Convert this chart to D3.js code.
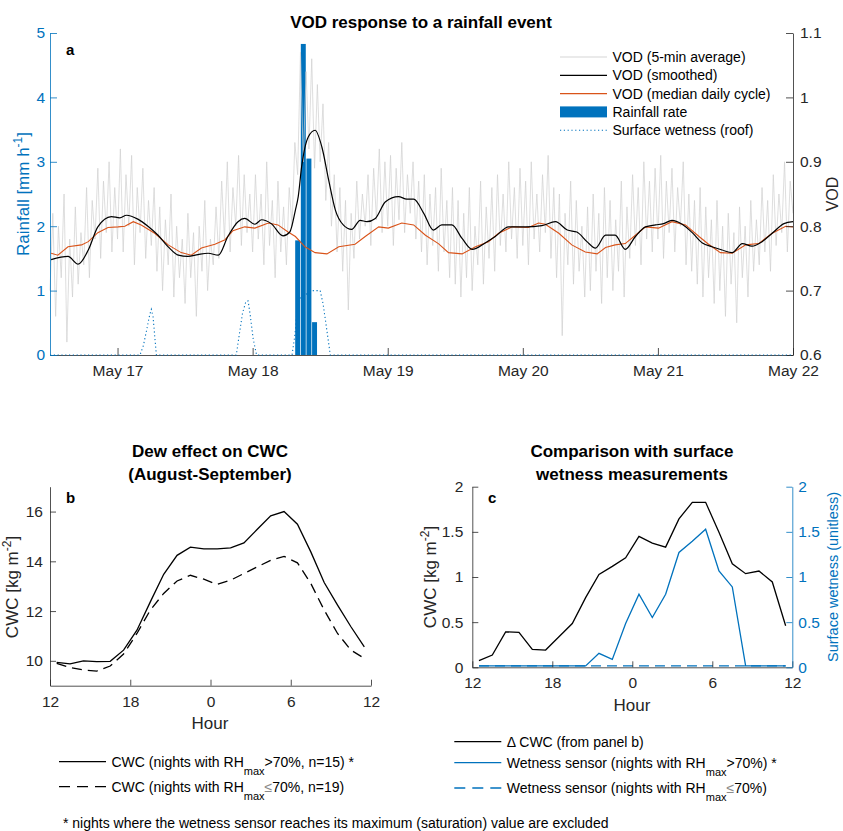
<!DOCTYPE html>
<html>
<head>
<meta charset="utf-8">
<script src="https://cdn.jsdelivr.net/npm/d3@7"></script>
<style>
  body { margin: 0; background: #fff; }
  svg { font-family: "Liberation Sans", Arial, Helvetica, sans-serif; }
</style>
</head>
<body>
<div class="chart"></div>
<script>
// ---------------- data ----------------
// panel a: time in hours counted from May 16 00:00
var vodRawStart = 12, vodRawStep = 0.5;
var vodRaw = [
  0.70,0.82,0.66,0.80,0.72,0.85,0.62,0.78,0.69,0.83,0.71,0.79,
  0.74,0.86,0.72,0.84,0.78,0.89,0.75,0.87,0.79,0.90,0.76,0.86,
  0.78,0.92,0.76,0.88,0.80,0.91,0.74,0.86,0.79,0.89,0.75,0.84,
  0.77,0.86,0.73,0.83,0.70,0.81,0.74,0.85,0.69,0.80,0.72,0.78,
  0.68,0.82,0.72,0.79,0.66,0.80,0.73,0.84,0.70,0.78,0.74,0.83,
  0.75,0.87,0.78,0.90,0.76,0.86,0.80,0.91,0.77,0.88,0.79,0.85,
  0.76,0.88,0.78,0.85,0.74,0.90,0.77,0.84,0.72,0.87,0.76,0.83,
  0.74,0.86,0.80,0.93,0.88,1.07,0.90,1.04,0.92,1.06,0.89,1.02,
  0.90,0.99,0.84,0.93,0.80,0.88,0.76,0.86,0.73,0.84,0.67,0.82,
  0.75,0.87,0.78,0.85,0.80,0.88,0.77,0.89,0.81,0.92,0.79,0.90,
  0.80,0.91,0.77,0.89,0.81,0.93,0.79,0.88,0.82,0.90,0.78,0.87,
  0.76,0.88,0.74,0.85,0.77,0.86,0.73,0.89,0.76,0.84,0.72,0.86,
  0.71,0.84,0.69,0.82,0.72,0.86,0.70,0.80,0.74,0.87,0.71,0.83,
  0.75,0.86,0.73,0.88,0.77,0.85,0.76,0.90,0.78,0.86,0.75,0.89,
  0.77,0.87,0.74,0.90,0.78,0.85,0.76,0.88,0.79,0.91,0.75,0.86,
  0.72,0.85,0.63,0.82,0.74,0.87,0.71,0.84,0.73,0.80,0.69,0.83,
  0.70,0.85,0.73,0.82,0.68,0.86,0.72,0.84,0.70,0.81,0.73,0.87,
  0.69,0.83,0.75,0.88,0.77,0.86,0.74,0.90,0.78,0.87,0.76,0.89,
  0.78,0.91,0.75,0.87,0.79,0.89,0.76,0.86,0.80,0.90,0.74,0.85,
  0.73,0.84,0.71,0.86,0.69,0.83,0.72,0.81,0.68,0.84,0.70,0.80,
  0.66,0.82,0.71,0.79,0.65,0.83,0.72,0.80,0.69,0.84,0.73,0.81,
  0.74,0.86,0.76,0.84,0.73,0.88,0.77,0.85,0.79,0.90,0.76,0.87,
  0.82
];

var smoothHours = [12.2,15.2,17.0,18.8,20.5,22.9,24.4,25.6,27.6,29.4,31.2,33.0,34.8,36.5,38.3,40.1,41.9,43.6,45.4,46.6,48.4,49.6,51.3,53.4,54.6,55.6,56.1,56.7,57.9,59.1,60.3,61.5,62.7,64.1,65.6,67.1,68.3,69.8,71.6,73.9,75.4,76.6,78.4,80.1,81.6,83.4,85.2,87.0,89.3,91.1,93.5,96.4,99.4,101.8,103.9,105.6,107.4,108.9,110.7,112.4,114.2,116.0,117.8,119.6,121.0,122.5,124.3,126.1,127.9,129.6,131.4,133.2,135.0,136.7,138.5,140.3,142.4,144.0];
var smoothVod = [0.748,0.753,0.741,0.763,0.799,0.815,0.813,0.817,0.811,0.800,0.786,0.768,0.755,0.753,0.756,0.758,0.755,0.784,0.807,0.812,0.803,0.810,0.804,0.785,0.791,0.825,0.846,0.892,0.939,0.949,0.923,0.872,0.825,0.802,0.795,0.809,0.807,0.812,0.838,0.846,0.842,0.842,0.820,0.794,0.802,0.802,0.781,0.764,0.774,0.784,0.799,0.799,0.801,0.807,0.794,0.791,0.776,0.766,0.786,0.786,0.764,0.784,0.799,0.802,0.804,0.809,0.803,0.790,0.774,0.768,0.763,0.759,0.773,0.769,0.776,0.789,0.804,0.807];

var medianHours = [12.2,13.4,15.2,17.6,18.8,20.5,22.3,24.1,25.3,26.8,28.2,30.6,33.0,35.3,37.1,38.9,41.3,43.1,44.5,46.6,48.4,50.8,52.5,54.3,55.6,57.3,59.1,61.2,63.3,66.2,68.0,70.4,72.1,74.5,76.6,78.7,81.0,82.8,85.2,87.6,89.9,91.7,94.1,97.0,98.8,100.0,102.4,104.7,107.1,109.2,110.7,112.4,114.2,116.0,117.8,120.1,122.5,124.9,127.3,129.0,131.1,133.2,135.6,137.9,140.3,142.7,144.0];
var medianVod = [0.758,0.755,0.768,0.771,0.776,0.790,0.798,0.799,0.800,0.807,0.802,0.789,0.771,0.759,0.755,0.766,0.772,0.779,0.793,0.799,0.797,0.805,0.802,0.791,0.784,0.768,0.759,0.757,0.768,0.772,0.784,0.799,0.797,0.805,0.802,0.786,0.773,0.759,0.757,0.768,0.776,0.789,0.799,0.798,0.805,0.803,0.789,0.771,0.760,0.757,0.767,0.771,0.773,0.786,0.799,0.797,0.807,0.802,0.784,0.772,0.759,0.758,0.771,0.773,0.789,0.800,0.799];

var rainHours = [56, 57, 58, 59];
var rainRate = [1.78, 4.83, 3.05, 0.51];

var wetHours = [12, 28.0,28.6,29.2,29.7,30.0,30.3,30.6,30.9, 45.1,45.6,46.2,46.8,47.2,47.6,48.1,48.7, 55.0,55.5,55.9,56.5,58.8,60.0,60.5,61.0,61.4,61.8, 144];
var wetRoof = [0, 0,0.15,0.40,0.62,0.71,0.60,0.30,0, 0,0.30,0.65,0.83,0.84,0.60,0.25,0, 0,0.30,0.70,0.90,1.00,1.00,0.80,0.50,0.25,0, 0];

var dayTickHours = [24, 48, 72, 96, 120, 144];
var dayTickLabels = ["May 17", "May 18", "May 19", "May 20", "May 21", "May 22"];
var rainTicks = [0, 1, 2, 3, 4, 5];
var vodTicks = [0.6, 0.7, 0.8, 0.9, 1, 1.1];

// panels b and c: hour of day (12 -> 36 means noon to next noon)
var hourOfDay = [12.5,13.5,14.5,15.5,16.5,17.5,18.5,19.5,20.5,21.5,22.5,23.5,24.5,25.5,26.5,27.5,28.5,29.5,30.5,31.5,32.5,33.5,34.5,35.5];
var cwcHumid = [9.94,9.88,10.0,9.97,9.98,10.43,11.23,12.37,13.48,14.24,14.57,14.50,14.50,14.54,14.74,15.29,15.83,16.0,15.49,14.38,13.15,12.24,11.37,10.56];
var cwcDry = [9.90,9.73,9.63,9.59,9.79,10.27,11.10,12.04,12.71,13.21,13.44,13.28,13.07,13.24,13.51,13.78,14.04,14.20,13.94,13.11,12.04,11.10,10.43,10.10];
var deltaCwc = [0.074,0.136,0.393,0.386,0.199,0.191,0.338,0.485,0.772,1.029,1.118,1.213,1.449,1.375,1.331,1.643,1.827,1.827,1.496,1.147,1.037,1.066,0.945,0.46];
var wetHumid = [0.015,0.015,0.015,0.015,0.015,0.015,0.015,0.015,0.015,0.154,0.088,0.485,0.809,0.551,0.809,1.272,1.397,1.529,1.066,0.89,0.015,0.015,0.015,0.015];
var wetDry = [0.015,0.015,0.015,0.015,0.015,0.015,0.015,0.015,0.015,0.015,0.015,0.015,0.015,0.015,0.015,0.015,0.015,0.015,0.015,0.015,0.015,0.015,0.015,0.015];

var hourTicks = [12, 18, 24, 30, 36];
var hourTickLabels = ["12", "18", "0", "6", "12"];
var cwcTicks = [10, 12, 14, 16];
var deltaTicks = [0, 0.5, 1, 1.5, 2];
var deltaTickLabels = ["0", "0.5", "1", "1.5", "2"];

var legendA = ["VOD (5-min average)", "VOD (smoothed)", "VOD (median daily cycle)", "Rainfall rate", "Surface wetness (roof)"];

// ---------------- style ----------------
var blue = "#0072BD", orange = "#D95319", axisGrey = "#262626", rawGrey = "#d0d0d0";
var tickFont = "15.5px", labelFont = "17px", legendFont = "14px";

var svg = d3.select(".chart").append("svg")
  .attr("width", 843)
  .attr("height", 831);

function styleAxis(g, color, size) {
  g.attr("color", color)
    .attr("font-size", size || tickFont)
    .attr("font-family", null);
  g.selectAll(".tick line").attr("stroke-width", 0.8);
  g.select(".domain").attr("stroke-width", 0.8);
}

// ================= panel a =================
var xA = d3.scaleLinear().domain([12, 144]).range([50, 793]);
var yRain = d3.scaleLinear().domain([0, 5]).range([355, 33]);
var yVod = d3.scaleLinear().domain([0.6, 1.1]).range([355, 33]);

var gA = svg.append("g");

// rainfall bars
var barW = xA(0.88) - xA(0);
gA.selectAll("rect.rain")
  .data(rainHours)
  .enter()
  .append("rect")
  .attr("class", "rain")
  .attr("x", d => xA(d) - barW / 2)
  .attr("width", barW)
  .attr("y", (d, i) => yRain(rainRate[i]))
  .attr("height", (d, i) => yRain(0) - yRain(rainRate[i]))
  .attr("fill", blue);

// 5-min VOD
var rawLine = d3.line()
  .x((d, i) => xA(vodRawStart + i * vodRawStep))
  .y(d => yVod(d));
gA.append("path")
  .datum(vodRaw)
  .attr("d", rawLine)
  .attr("fill", "none")
  .attr("stroke", rawGrey)
  .attr("stroke-width", 0.7);

// median daily cycle
gA.append("path")
  .datum(medianHours)
  .attr("d", d3.line().x(d => xA(d)).y((d, i) => yVod(medianVod[i])))
  .attr("fill", "none")
  .attr("stroke", orange)
  .attr("stroke-width", 1.1);

// smoothed VOD
gA.append("path")
  .datum(smoothHours)
  .attr("d", d3.line().curve(d3.curveMonotoneX).x(d => xA(d)).y((d, i) => yVod(smoothVod[i])))
  .attr("fill", "none")
  .attr("stroke", "#000")
  .attr("stroke-width", 1.2);

// axes
var xAxisA = d3.axisBottom(xA)
  .tickValues(dayTickHours)
  .tickFormat((d, i) => dayTickLabels[i])
  .tickSizeInner(-7).tickSizeOuter(0).tickPadding(10);
gA.append("g")
  .attr("transform", "translate(0,355)")
  .call(xAxisA)
  .call(g => styleAxis(g, axisGrey));

var leftA = d3.axisLeft(yRain)
  .tickValues(rainTicks)
  .tickFormat(d3.format("d"))
  .tickSizeInner(-7).tickSizeOuter(0).tickPadding(5);
gA.append("g")
  .attr("transform", "translate(50,0)")
  .call(leftA)
  .call(g => styleAxis(g, blue));

var rightA = d3.axisRight(yVod)
  .tickValues(vodTicks)
  .tickFormat(d3.format("~g"))
  .tickSizeInner(-7).tickSizeOuter(0).tickPadding(7);
gA.append("g")
  .attr("transform", "translate(793,0)")
  .call(rightA)
  .call(g => styleAxis(g, axisGrey));

// surface wetness (dotted) drawn over the axis
gA.append("path")
  .datum(wetHours)
  .attr("d", d3.line().x(d => xA(d)).y((d, i) => yRain(wetRoof[i])))
  .attr("fill", "none")
  .attr("stroke", blue)
  .attr("stroke-width", 1.1)
  .attr("stroke-dasharray", "1.2,2.6");

// labels
svg.append("text")
  .attr("x", 421).attr("y", 28)
  .attr("text-anchor", "middle")
  .attr("font-weight", "bold")
  .attr("font-size", labelFont)
  .text("VOD response to a rainfall event");

svg.append("text")
  .attr("x", 66).attr("y", 55)
  .attr("font-weight", "bold")
  .attr("font-size", "15px")
  .text("a");

var rainLabel = svg.append("text")
  .attr("transform", "translate(29,194) rotate(-90)")
  .attr("text-anchor", "middle")
  .attr("font-size", labelFont)
  .attr("fill", blue);
rainLabel.append("tspan").text("Rainfall [mm h");
rainLabel.append("tspan").attr("dy", -7).attr("font-size", "12px").text("-1");
rainLabel.append("tspan").attr("dy", 7).text("]");

svg.append("text")
  .attr("transform", "translate(838,194) rotate(-90)")
  .attr("text-anchor", "middle")
  .attr("font-size", "16px")
  .attr("fill", axisGrey)
  .text("VOD");

// legend a
var legA = svg.append("g").attr("font-size", legendFont).attr("fill", "#000");
legendA.forEach(function(label, i) {
  var y = 57 + i * 18.3;
  if (i === 3) {
    legA.append("rect").attr("x", 560).attr("y", y - 5.5).attr("width", 47).attr("height", 11).attr("fill", blue);
  } else {
    var l = legA.append("line")
      .attr("x1", 560).attr("x2", 607).attr("y1", y).attr("y2", y);
    if (i === 0) l.attr("stroke", rawGrey).attr("stroke-width", 0.9);
    if (i === 1) l.attr("stroke", "#000").attr("stroke-width", 1.2);
    if (i === 2) l.attr("stroke", orange).attr("stroke-width", 1.1);
    if (i === 4) l.attr("stroke", blue).attr("stroke-width", 1.1).attr("stroke-dasharray", "1.2,2.6");
  }
  legA.append("text").attr("x", 612.5).attr("y", y + 5).text(label);
});

// ================= panel b =================
var xB = d3.scaleLinear().domain([12, 36]).range([50, 371]);
var yB = d3.scaleLinear().domain([9, 17]).range([685.7, 486.7]);
var gB = svg.append("g");

gB.append("path")
  .datum(hourOfDay)
  .attr("d", d3.line().x(d => xB(d)).y((d, i) => yB(cwcHumid[i])))
  .attr("fill", "none").attr("stroke", "#000").attr("stroke-width", 1.3);
gB.append("path")
  .datum(hourOfDay)
  .attr("d", d3.line().x(d => xB(d)).y((d, i) => yB(cwcDry[i])))
  .attr("fill", "none").attr("stroke", "#000").attr("stroke-width", 1.3)
  .attr("stroke-dasharray", "10,6");

gB.append("g")
  .attr("transform", "translate(0,685.7)")
  .call(d3.axisBottom(xB).tickValues(hourTicks).tickFormat((d, i) => hourTickLabels[i])
    .tickSizeInner(-6).tickSizeOuter(0).tickPadding(10))
  .call(g => styleAxis(g, axisGrey));
gB.append("g")
  .attr("transform", "translate(50,0)")
  .call(d3.axisLeft(yB).tickValues(cwcTicks).tickSizeInner(-6).tickSizeOuter(0).tickPadding(7))
  .call(g => styleAxis(g, axisGrey));

svg.append("text").attr("x", 210).attr("y", 457).attr("text-anchor", "middle")
  .attr("font-weight", "bold").attr("font-size", labelFont).text("Dew effect on CWC");
svg.append("text").attr("x", 210).attr("y", 480).attr("text-anchor", "middle")
  .attr("font-weight", "bold").attr("font-size", labelFont).text("(August-September)");
svg.append("text").attr("x", 66).attr("y", 503)
  .attr("font-weight", "bold").attr("font-size", "15px").text("b");
svg.append("text").attr("x", 210).attr("y", 729).attr("text-anchor", "middle")
  .attr("font-size", labelFont).attr("fill", axisGrey).text("Hour");

function cwcLabel(x, y) {
  var t = svg.append("text")
    .attr("transform", "translate(" + x + "," + y + ") rotate(-90)")
    .attr("text-anchor", "middle")
    .attr("font-size", labelFont)
    .attr("fill", axisGrey);
  t.append("tspan").text("CWC [kg m");
  t.append("tspan").attr("dy", -7).attr("font-size", "12px").text("-2");
  t.append("tspan").attr("dy", 7).text("]");
}
cwcLabel(18, 587);

// ================= panel c =================
var xC = d3.scaleLinear().domain([12, 36]).range([472.3, 792.3]);
var yC = d3.scaleLinear().domain([0, 2]).range([667.3, 486.7]);
var gC = svg.append("g");

gC.append("path")
  .datum(hourOfDay)
  .attr("d", d3.line().x(d => xC(d)).y((d, i) => yC(wetDry[i])))
  .attr("fill", "none").attr("stroke", blue).attr("stroke-width", 1.3)
  .attr("stroke-dasharray", "10,6");
gC.append("path")
  .datum(hourOfDay)
  .attr("d", d3.line().x(d => xC(d)).y((d, i) => yC(wetHumid[i])))
  .attr("fill", "none").attr("stroke", blue).attr("stroke-width", 1.3);
gC.append("path")
  .datum(hourOfDay)
  .attr("d", d3.line().x(d => xC(d)).y((d, i) => yC(deltaCwc[i])))
  .attr("fill", "none").attr("stroke", "#000").attr("stroke-width", 1.3);

gC.append("g")
  .attr("transform", "translate(0,667.3)")
  .call(d3.axisBottom(xC).tickValues(hourTicks).tickFormat((d, i) => hourTickLabels[i])
    .tickSizeInner(-6).tickSizeOuter(0).tickPadding(10))
  .call(g => styleAxis(g, axisGrey));
gC.append("g")
  .attr("transform", "translate(472.3,0)")
  .call(d3.axisLeft(yC).tickValues(deltaTicks).tickFormat((d, i) => deltaTickLabels[i])
    .tickSizeInner(-6).tickSizeOuter(0).tickPadding(9))
  .call(g => styleAxis(g, axisGrey));
gC.append("g")
  .attr("transform", "translate(792.3,0)")
  .call(d3.axisRight(yC).tickValues(deltaTicks).tickFormat((d, i) => deltaTickLabels[i])
    .tickSizeInner(-6).tickSizeOuter(0).tickPadding(6))
  .call(g => styleAxis(g, blue));

svg.append("text").attr("x", 632).attr("y", 457).attr("text-anchor", "middle")
  .attr("font-weight", "bold").attr("font-size", labelFont).text("Comparison with surface");
svg.append("text").attr("x", 632).attr("y", 480).attr("text-anchor", "middle")
  .attr("font-weight", "bold").attr("font-size", labelFont).text("wetness measurements");
svg.append("text").attr("x", 488).attr("y", 503)
  .attr("font-weight", "bold").attr("font-size", "15px").text("c");
svg.append("text").attr("x", 632).attr("y", 711).attr("text-anchor", "middle")
  .attr("font-size", labelFont).attr("fill", axisGrey).text("Hour");
cwcLabel(436, 577);
svg.append("text")
  .attr("transform", "translate(838,577) rotate(-90)")
  .attr("text-anchor", "middle")
  .attr("font-size", "14.5px")
  .attr("fill", blue)
  .text("Surface wetness (unitless)");

// ================= legends b / c =================
var leg = svg.append("g").attr("font-size", legendFont).attr("fill", "#000");

function legendRow(x, y, stroke, dash, parts) {
  var l = leg.append("line")
    .attr("x1", x).attr("x2", x + 47).attr("y1", y).attr("y2", y)
    .attr("stroke", stroke).attr("stroke-width", 1.3);
  if (dash) l.attr("stroke-dasharray", "11,7");
  var t = leg.append("text").attr("x", x + 52.5).attr("y", y + 5);
  parts.forEach(function(p) {
    var s = t.append("tspan").text(p.text);
    if (p.sub) s.attr("dy", 8).attr("font-size", "11px");
    if (p.back) s.attr("dy", -8);
    if (p.grey) s.attr("fill", "#8c8c8c");
  });
}

legendRow(59, 761.7, "#000", false, [
  {text: "CWC (nights with RH"}, {text: "max", sub: true}, {text: ">70%, n=15) *", back: true}]);
legendRow(59, 786.7, "#000", true, [
  {text: "CWC (nights with RH"}, {text: "max", sub: true}, {text: "\u2264", back: true, grey: true}, {text: "70%, n=19)"}]);

legendRow(454.3, 741.7, "#000", false, [{text: "\u0394 CWC (from panel b)"}]);
legendRow(454.3, 762.7, blue, false, [
  {text: "Wetness sensor (nights with RH"}, {text: "max", sub: true}, {text: ">70%) *", back: true}]);
legendRow(454.3, 788, blue, true, [
  {text: "Wetness sensor (nights with RH"}, {text: "max", sub: true}, {text: "\u2264", back: true, grey: true}, {text: "70%)"}]);

svg.append("text").attr("x", 63).attr("y", 828)
  .attr("font-size", legendFont)
  .text("* nights where the wetness sensor reaches its maximum (saturation) value are excluded");
</script>
</body>
</html>
